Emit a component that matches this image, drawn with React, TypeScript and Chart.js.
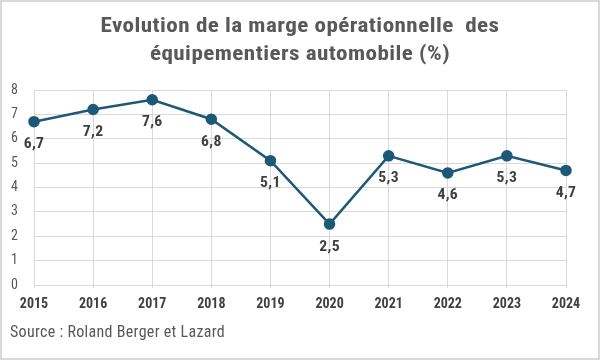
import React, { useEffect, useRef } from "react";
import { Chart, registerables } from "chart.js";

Chart.register(...registerables);

const years = ["2015", "2016", "2017", "2018", "2019", "2020", "2021", "2022", "2023", "2024"];
const margins = [6.7, 7.2, 7.6, 6.8, 5.1, 2.5, 5.3, 4.6, 5.3, 4.7];
const yTicks = [0, 1, 2, 3, 4, 5, 6, 7, 8];
const titleLines = ["Evolution de la marge opérationnelle  des", "équipementiers automobile (%)"];
const sourceText = "Source : Roland Berger et Lazard";

const FONT = '"Roboto Condensed", "Liberation Sans Narrow", "DejaVu Sans Condensed", Roboto, sans-serif';
const LINE = "#1d5977";

const fmt = (v: number) => v.toFixed(1).replace(".", ",");

function stretchedText(ctx: any, text: string, x: number, y: number, sx: number) {
  ctx.save();
  ctx.translate(x, y);
  ctx.scale(sx, 1);
  ctx.fillText(text, 0, 0);
  ctx.restore();
}

const decorPlugin = {
  id: "decor",
  afterDatasetsDraw(chart: any) {
    const ctx = chart.ctx;
    const meta = chart.getDatasetMeta(0);
    ctx.save();
    ctx.letterSpacing = "0.3px";
    ctx.font = `bold 14px ${FONT}`;
    ctx.fillStyle = "#404040";
    ctx.textAlign = "center";
    ctx.textBaseline = "middle";
    meta.data.forEach((pt: any, i: number) => {
      stretchedText(ctx, fmt(margins[i]), pt.x, pt.y + 23, 1.12);
    });
    ctx.restore();
  },
  afterDraw(chart: any) {
    const ctx = chart.ctx;
    ctx.save();
    ctx.letterSpacing = "0.4px";
    ctx.font = `bold 21px ${FONT}`;
    ctx.fillStyle = "#595959";
    ctx.textAlign = "center";
    ctx.textBaseline = "middle";
    titleLines.forEach((l, i) => stretchedText(ctx, l, 300, 27 + i * 28, 1.1));
    ctx.letterSpacing = "0.3px";
    ctx.font = `16px ${FONT}`;
    ctx.textAlign = "left";
    ctx.fillText(sourceText, 10, 333);
    ctx.restore();
  },
};

export default function App() {
  const ref = useRef<HTMLCanvasElement>(null);
  useEffect(() => {
    if (!ref.current) return;
    const chart = new Chart(ref.current, {
      type: "line",
      data: {
        labels: years,
        datasets: [
          {
            data: margins,
            borderColor: LINE,
            backgroundColor: LINE,
            borderWidth: 2.5,
            pointRadius: 4.5,
            pointBackgroundColor: LINE,
            pointBorderColor: LINE,
            tension: 0,
            clip: false as any,
          },
        ],
      },
      options: {
        animation: false,
        responsive: false,
        devicePixelRatio: 1,
        layout: { padding: { left: 0, right: 34, top: 90, bottom: 0 } },
        plugins: { legend: { display: false }, tooltip: { enabled: false }, title: { display: false } },
        scales: {
          x: {
            offset: false,
            grid: { color: "#d9d9d9", lineWidth: 1, drawTicks: true, tickLength: 3 },
            border: { display: false },
            ticks: {
              color: "#404040",
              font: { family: FONT, size: 14, weight: "bold" },
              padding: 8,
              maxRotation: 0,
              autoSkip: false,
            },
            afterFit: (s: any) => {
              s.height = 75;
            },
          },
          y: {
            min: 0,
            max: 8,
            afterBuildTicks: (s: any) => {
              s.ticks = yTicks.map((v) => ({ value: v }));
            },
            grid: { color: "#d9d9d9", lineWidth: 1, drawTicks: false },
            border: { display: false },
            ticks: {
              color: "#595959",
              font: { family: FONT, size: 14 },
              padding: 16,
            },
            afterFit: (s: any) => {
              s.width = 34;
            },
          },
        },
      },
      plugins: [decorPlugin],
    });
    return () => chart.destroy();
  }, []);
  return (
    <div style={{ position: "fixed", left: 0, top: 0, width: 600, height: 360, background: "#fff" }}>
      <canvas ref={ref} width={600} height={360} style={{ position: "absolute", left: 0, top: 0 }} />
      <div
        style={{
          position: "absolute",
          left: 0,
          top: 0,
          width: 600,
          height: 360,
          boxSizing: "border-box",
          border: "2px solid #d9d9d9",
          pointerEvents: "none",
        }}
      />
    </div>
  );
}
